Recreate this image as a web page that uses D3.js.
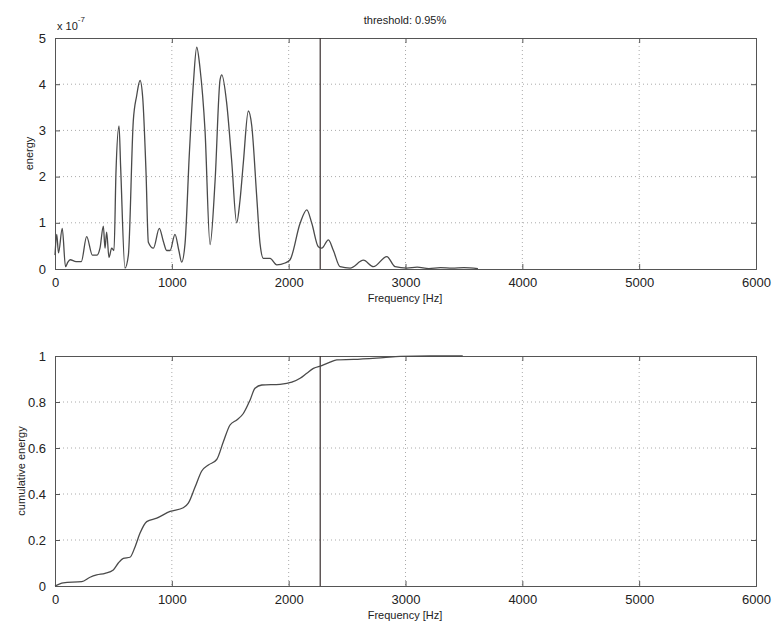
<!DOCTYPE html>
<html>
<head>
<meta charset="utf-8">
<script src="https://cdn.jsdelivr.net/npm/d3@7"></script>
<style>
body { margin: 0; background: #fff; }
text { font-family: "Liberation Sans", Arial, sans-serif; fill: #222; }
</style>
</head>
<body>
<script>
// energy spectrum, values in units of 1e-7
let energyFreq = [0, 15, 30, 62, 90, 110, 130, 180, 225, 271, 320, 360, 385, 414, 428, 442, 462, 485, 505,
    522, 548, 562, 599, 628, 670, 699, 728, 751, 779, 799, 842, 893, 927, 956, 985, 1027, 1060, 1084, 1113,
    1150, 1184, 1213, 1241, 1284, 1327, 1370, 1413, 1428, 1469, 1512, 1555, 1584, 1612, 1655, 1684, 1727,
    1755, 1784, 1841, 1898, 1969, 2012, 2098, 2155, 2198, 2254, 2283, 2340, 2383, 2440, 2526, 2640, 2725,
    2840, 2911, 3011, 3100, 3200, 3300, 3400, 3500, 3620];
let energyVal = [0.3, 0.75, 0.35, 0.88, 0.05, 0.15, 0.2, 0.16, 0.16, 0.7, 0.3, 0.3, 0.45, 0.93, 0.45, 0.8, 0.25, 0.45, 0.4,
    2.1, 3.1, 2.2, 0.02, 0.3, 3.2, 3.75, 4.08, 3.7, 2.1, 0.58, 0.45, 0.88, 0.6, 0.4, 0.4, 0.75, 0.4, 0.15, 0.55,
    2.5, 4.0, 4.8, 4.35, 3.0, 0.53, 1.9, 4.1, 4.2, 3.6, 2.35, 1.0, 1.5, 2.3, 3.42, 3.1, 1.55,
    0.55, 0.23, 0.23, 0.09, 0.13, 0.2, 0.99, 1.28, 0.99, 0.48, 0.45, 0.63, 0.4, 0.05, 0.02, 0.19, 0.05,
    0.27, 0.05, 0.02, 0.04, 0.01, 0.03, 0.02, 0.03, 0.01];

// cumulative energy
let cumFreq = [0, 71, 229, 300, 357, 428, 499, 542, 585, 642, 685, 728, 785, 871, 985, 1098, 1141, 1199, 1256,
    1313, 1384, 1441, 1498, 1556, 1612, 1670, 1712, 1770, 1926, 2027, 2098, 2155, 2212, 2283, 2354, 2412,
    2554, 2811, 2954, 3210, 3490];
let cumVal = [0, 0.014, 0.019, 0.038, 0.048, 0.055, 0.07, 0.10, 0.12, 0.125, 0.17, 0.23, 0.28, 0.295, 0.324, 0.34, 0.36, 0.43, 0.50,
    0.526, 0.55, 0.627, 0.70, 0.722, 0.75, 0.809, 0.86, 0.874, 0.877, 0.886, 0.903, 0.925, 0.946, 0.958, 0.973, 0.983,
    0.985, 0.993, 0.998, 1.0, 1.0];

let threshold = 2270;
let xTicks = [0, 1000, 2000, 3000, 4000, 5000, 6000];
let energyTicks = [0, 1, 2, 3, 4, 5];
let cumTicks = [0, 0.2, 0.4, 0.6, 0.8, 1];

let svg = d3.select("body").append("svg").attr("width", 775).attr("height", 627);

let xScale = d3.scaleLinear().domain([0, 6000]).range([55, 756]);

function drawPanel(top, bottom, yDomain, yTicks, yFmt, freqs, vals, yLabel, yLabelX) {
    let yScale = d3.scaleLinear().domain(yDomain).range([bottom, top]);
    let g = svg.append("g");

    // grid
    g.selectAll(".vg").data(xTicks.slice(1, -1)).enter().append("line")
        .attr("x1", d => xScale(d)).attr("x2", d => xScale(d))
        .attr("y1", top).attr("y2", bottom)
        .attr("stroke", "#aaa").attr("stroke-width", 1).attr("stroke-dasharray", "1,3");
    g.selectAll(".hg").data(yTicks.slice(1, -1)).enter().append("line")
        .attr("x1", 55).attr("x2", 756)
        .attr("y1", d => yScale(d)).attr("y2", d => yScale(d))
        .attr("stroke", "#aaa").attr("stroke-width", 1).attr("stroke-dasharray", "1,3");

    // axes with inward ticks on all sides
    g.append("g").attr("transform", "translate(0," + bottom + ")")
        .call(d3.axisBottom(xScale).tickValues(xTicks).tickSize(-5).tickPadding(9).tickFormat(d3.format("d")));
    g.append("g").attr("transform", "translate(0," + top + ")")
        .call(d3.axisTop(xScale).tickValues(xTicks).tickSize(-5).tickFormat(""));
    g.append("g").attr("transform", "translate(55,0)")
        .call(d3.axisLeft(yScale).tickValues(yTicks).tickSize(-5).tickPadding(9).tickFormat(yFmt));
    g.append("g").attr("transform", "translate(756,0)")
        .call(d3.axisRight(yScale).tickValues(yTicks).tickSize(-5).tickFormat(""));
    g.selectAll(".domain").attr("stroke", "#555");
    g.selectAll(".tick line").attr("stroke", "#555");
    g.selectAll(".tick text").style("font-size", "13px").style("font-family", "'Liberation Sans', Arial, sans-serif").attr("fill", "#222");

    // threshold
    g.append("line")
        .attr("x1", xScale(threshold)).attr("x2", xScale(threshold))
        .attr("y1", top).attr("y2", bottom)
        .attr("stroke", "#3a3030").attr("stroke-width", 1.2);

    // data curve
    let pts = freqs.map((f, i) => [f, vals[i]]);
    let line = d3.line().x(d => xScale(d[0])).y(d => yScale(d[1])).curve(d3.curveMonotoneX);
    g.append("path").datum(pts)
        .attr("d", line).attr("fill", "none")
        .attr("stroke", "#4a4a4a").attr("stroke-width", 1.3);

    // labels
    g.append("text").attr("x", 405).attr("y", bottom + 33)
        .attr("text-anchor", "middle").style("font-size", "11px").text("Frequency [Hz]");
    g.append("text")
        .attr("transform", "translate(" + yLabelX + "," + ((top + bottom) / 2) + ") rotate(-90)")
        .attr("text-anchor", "middle").style("font-size", "11px").text(yLabel);
}

drawPanel(38, 269, [0, 5], energyTicks, d3.format("d"), energyFreq, energyVal, "energy", 33);
drawPanel(356, 586, [0, 1], cumTicks, d => d === 0 || d === 1 ? d : d3.format(".1f")(d), cumFreq, cumVal, "cumulative energy", 25);

// exponent label and title
let expo = svg.append("text").attr("x", 57).attr("y", 30).style("font-size", "11px");
expo.append("tspan").text("x 10");
expo.append("tspan").attr("dy", -8).style("font-size", "8px").text("-7");

svg.append("text").attr("x", 405).attr("y", 24).attr("text-anchor", "middle")
    .style("font-size", "11px").text("threshold: 0.95%");
</script>
</body>
</html>
